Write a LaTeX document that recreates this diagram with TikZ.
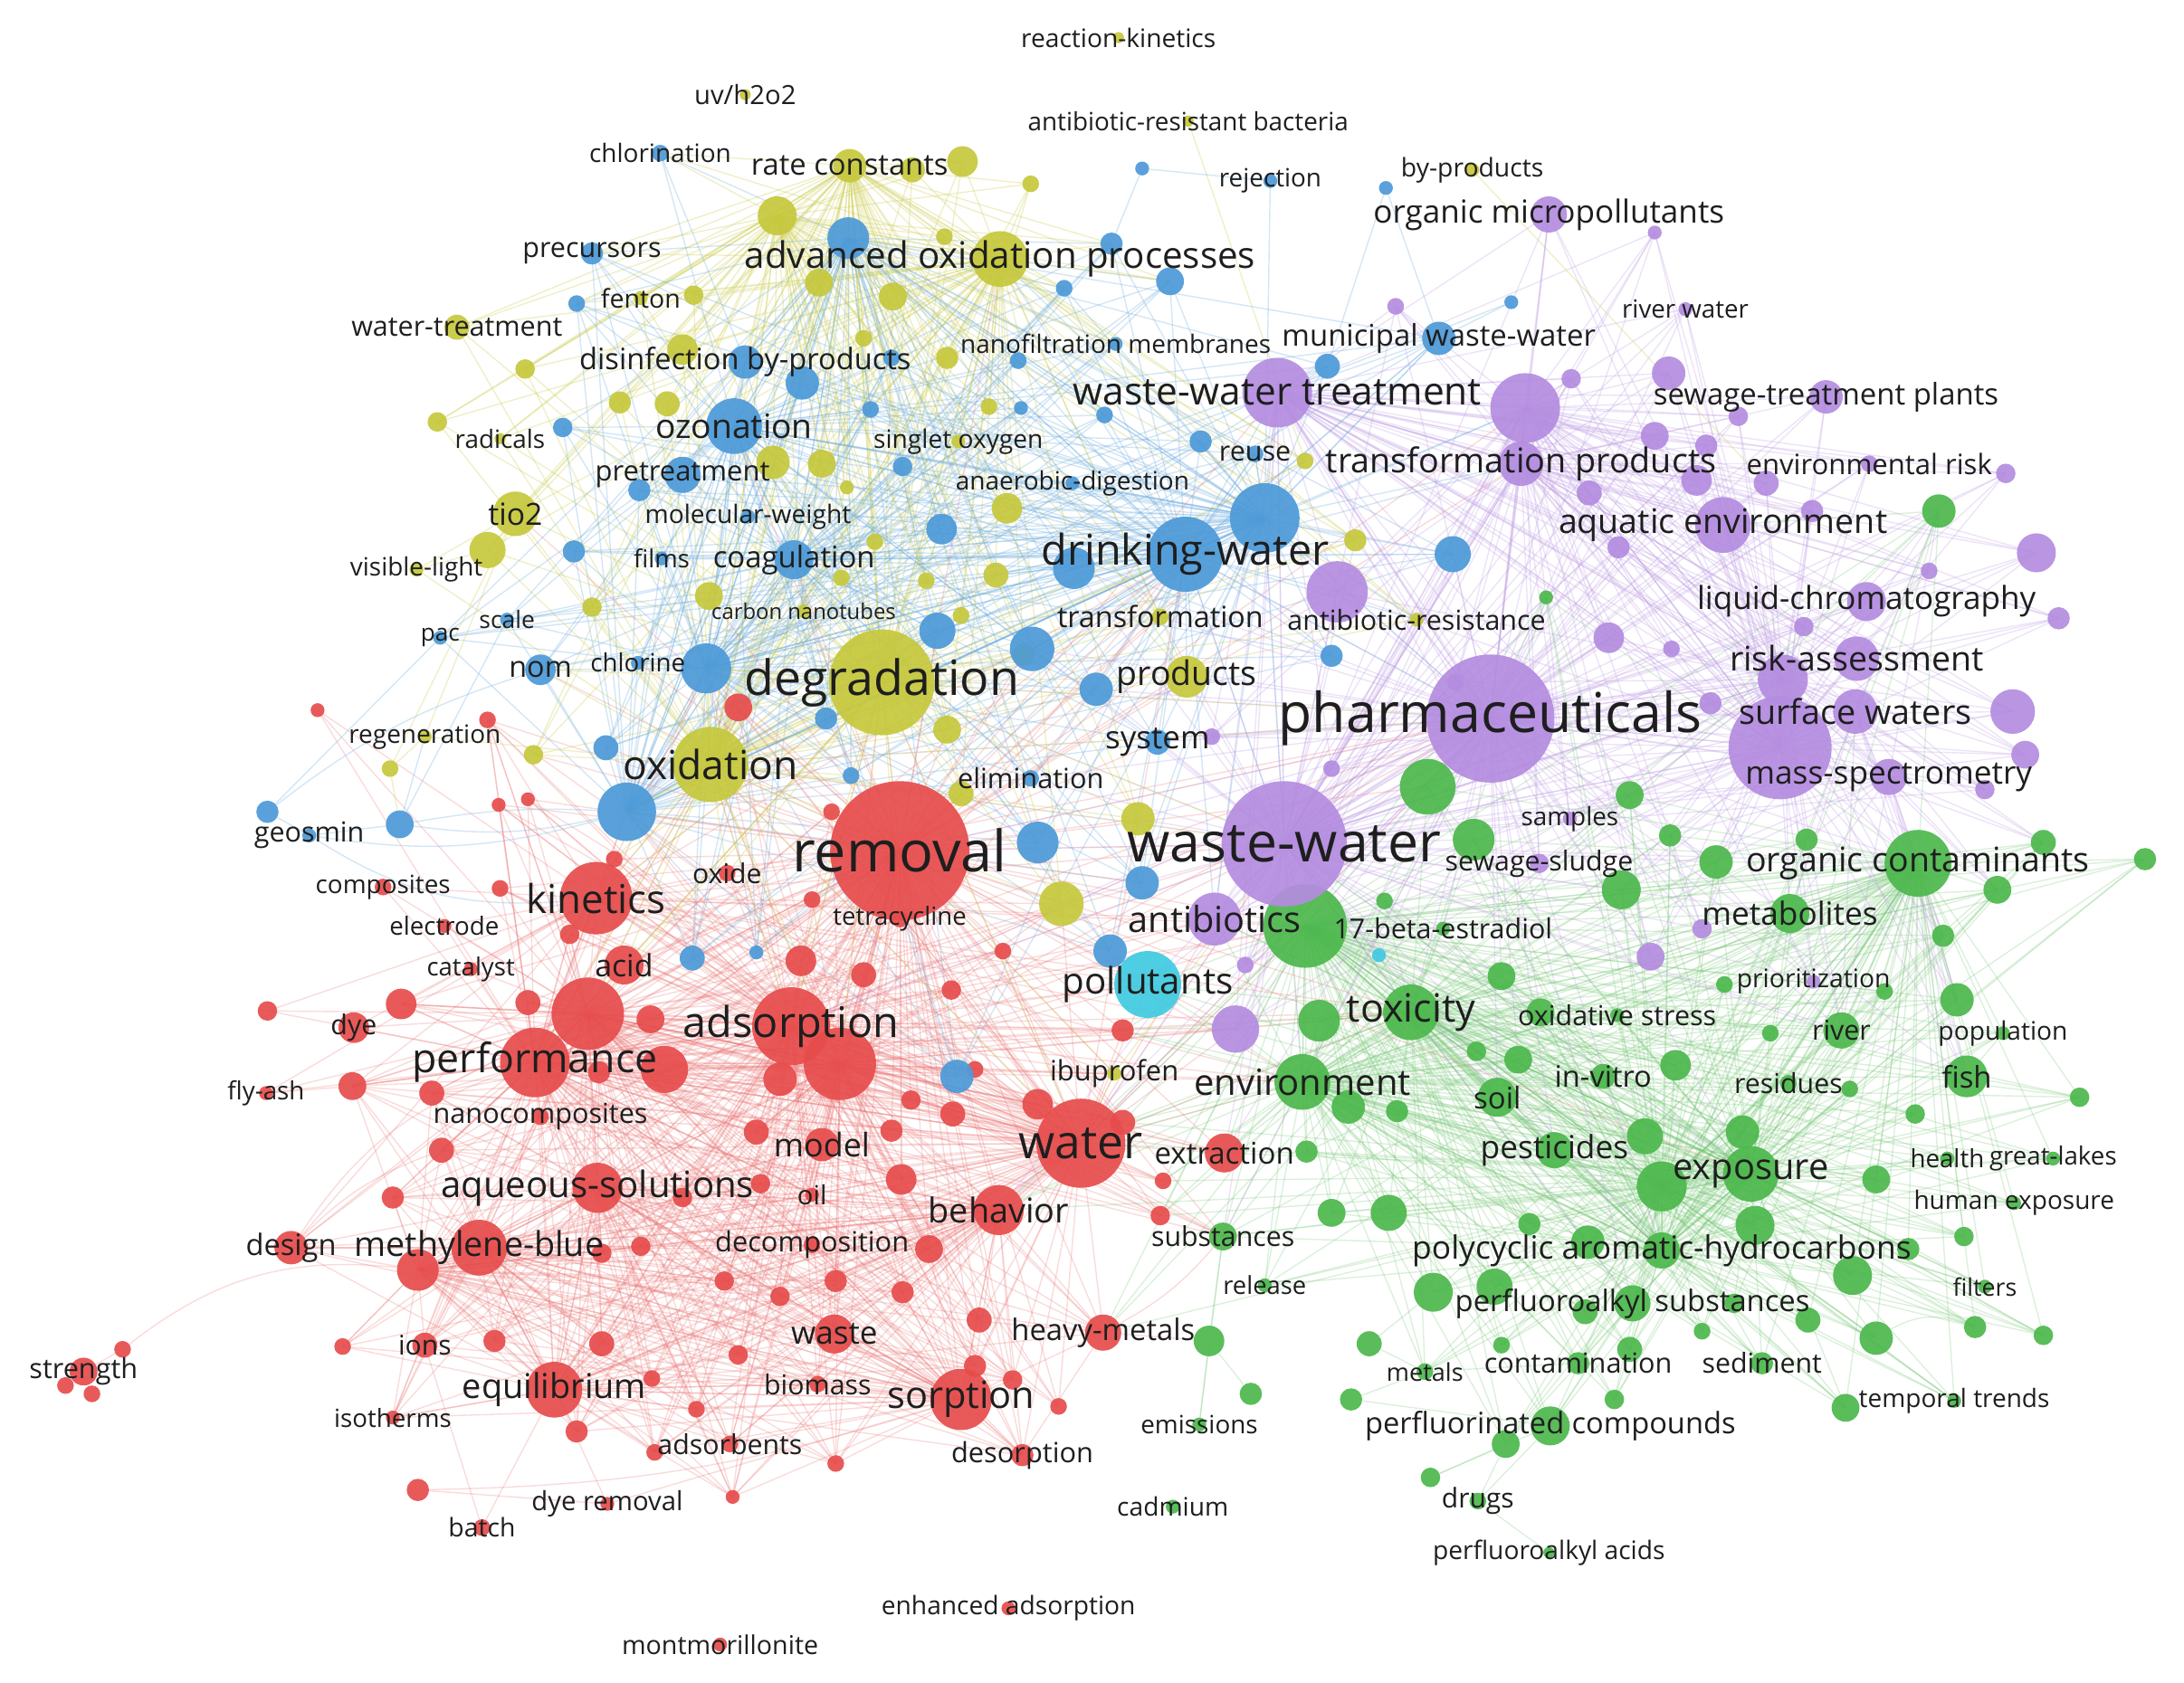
\documentclass[tikz,border=0pt]{standalone}
\usepackage{fontspec}
\setmainfont{Open Sans}
\pgfdeclarelayer{edges}
\pgfdeclarelayer{labels}
\pgfsetlayers{edges,main,labels}
\definecolor{cR}{RGB}{231,76,76}
\definecolor{cG}{RGB}{76,184,76}
\definecolor{cB}{RGB}{76,154,216}
\definecolor{cY}{RGB}{198,200,60}
\definecolor{cP}{RGB}{180,140,224}
\definecolor{cC}{RGB}{64,202,224}
\definecolor{txt}{RGB}{30,30,30}
\tikzset{
 kwdot/.style={circle,inner sep=0pt,draw=none,fill opacity=0.92},
 kwlbl/.style={inner sep=0pt,text=txt},
 eR/.style={draw=cR!80!white,draw opacity=0.25,line width=0.9pt},
 eG/.style={draw=cG!80!white,draw opacity=0.25,line width=0.9pt},
 eB/.style={draw=cB!80!white,draw opacity=0.3,line width=0.9pt},
 eY/.style={draw=cY!85!white,draw opacity=0.32,line width=0.9pt},
 eP/.style={draw=cP!85!white,draw opacity=0.28,line width=0.9pt},
}
\newcommand\kw[7]{%
 \node[kwdot,fill=#5,minimum size={2pt*#4}] (#1) at (#2,#3) {};%
 \begin{pgfonlayer}{labels}%
 \node[kwlbl,font=\fontsize{#6}{#6}\selectfont] (#1t) at (#2,#3) {#7};%
 \end{pgfonlayer}}
\def\redA{kinet,oxide,tetra,acid,adsorp,perf,nanoc,model,water,aqsol,oil,behav,mblue,decomp,ions,waste,heavy,biomass,sorp,equil,adsorb,desorp,extr,r2,r3,r4,r5,r6,r7,r9,r10,r11,r12,r14,r15,r16,r17,r18,r19,r20,r22,r23,r24,r25,r26,r27,r28,r29,r30,r31,r33,r34,r35,r36,r37,r38,r39,r40,r41,r42,r46,r47,r48,r49,r51,r52,r54,r55,r56,r57,r58,r59,r61,r62,r63,r64,r65,r66,r67,r68,r69,r70}
\def\redP{compos,electr,catal,dye,r1,r8,design,isoth,flyash,r7,r9,r67,r68}
\def\redB{aqsol,mblue,equil,sorp,ions,waste,biomass,isoth,adsorb,desorp,design,r9,r10,r11,r12,r13,r14,r15,r16,r17,r18,r19,r20,r22,r29,r30,r31,r47,r48,r51,r54,r55,r56,r61,r62,r63,heavy,behav,model,decomp,oil,nanoc,r69,r70}
\def\yelA{ratec,aop,fenton,wtreat,radic,singlet,tio,cnt,deg,prod,transf,abres,oxid,y1,y2,y3,y4,y5,y6,y7,y8,y9,y10,y11,y12,y13,y14,y15,y16,y17,y18,y19,y20,y21,y22,y23,y24,y25,y26,y27,y29,y30,y31,y32,y33,y34,y35,y36,y37}
\def\bluA{precurs,dbp,nanof,munic,ozon,pretr,reuse,anaer,molw,films,coag,dwater,scale,pac,nom,chlorine,system,elim,b1,b2,b3,b4,b8,b9,b10,b11,b12,b13,b14,b15,b16,b17,b18,b19,b20,b21,b22,b23,b24,b25,b26,b27,b28,b29,b30,b31,b32,b35,b36,b37,b38,b39,b40,b41}
\def\purA{omicro,riverw,wwt,stp,tprod,envrisk,aqenv,lcms,riskass,pharma,surfw,massspec,wastew,antib,samples,ssludge,priorit,p1,p2,p3,p4,p5,p6,p7,p8,p9,p10,p11,p12,p13,p14,p15,p16,p17,p18,p19,p20,p21,p22,p23,p24,p25,p31,p32,p33,p34,p35,p36,p37,p38,p39}
\def\grnA{beta,toxic,oxstress,popul,river,envir,invitro,resid,fish,soil,pest,expo,health,glakes,humexp,subst,pah,releas,filters,pfas,metals,contam,sedim,temptr,pfc,metab,orgcont,g1,g2,g3,g4,g5,g6,g7,g8,g9,g10,g11,g12,g13,g14,g15,g16,g17,g18,g19,g20,g21,g22,g23,g24,g25,g26,g27,g28,g29,g30,g31,g32,g33,g34,g35,g36,g39,g40,g41,g42,g47,g51,g52,g53,g54,g55,g56,g57,g58,g59,g60,g61,g62,g63,g64,g65,g67}
\def\crossRem{deg,oxid,aop,dwater,b19,b26,b23,ozon,coag,prod,system,elim,y24,y25,y34,y35,b27,b21,b22,b38,b39,b40,wastew,pharma,antib,pollut,tprod,wwt,toxic,envir,g5,g3,expo,subst,p21,b28,b29,b30,y30,nom,chlorine,tio,b31,b32,ibu,transf,p22,p1,b25,y29,y21}
\def\crossB{deg,oxid,b26,b23,y24,pollut,envir,wastew,pharma,b30,dwater,subst,g5,antib,p21,toxic,b31,ibu}
\def\crossPh{toxic,envir,g5,g3,g4,expo,orgcont,metab,beta,g7,g9,g10,soil,pest,pah,pfas,river,fish,g18,g19,g52,dwater,b19,b20,b36,deg,prod,system,y24,y25,y26,pollut,c1,removal,water,adsorp,oxid,b35,b22,b21,elim,transf,abres,subst,extr,behav}
\def\crossPg{orgcont,metab,g10,g11,g12,g8,g9,river,fish,g15,g13,g51,g1,g7}
\def\crossDw{pharma,wastew,wwt,tprod,p1,p22,antib,abres,deg,aop,prod,transf,y18,y23,y30,y26,y27,munic,reuse,anaer}
\def\crossDeg{removal,kinet,adsorp,perf,r4,acid,oxide,tetra,r40,r41,water,r5,r6,b23,b26,chlorine,nom,b21,b38,coag,b39,b40,dwater,pharma,wastew}
\def\crossAop{b1,b3,b4,b2,ozon,dbp,b10,b11,nanof,b12,b16,precurs,b8,chlorin}
\def\crossG{water,extr,behav,heavy,p21,antib,wastew,pollut,c1,r35,r39,r49,r64}
\begin{document}
\begin{tikzpicture}[x=1pt,y=-1pt]
\useasboundingbox (0,0) rectangle (1568,1208);
% ---------- unlabeled dots ----------
\foreach \nm/\px/\py/\rd in {r1/228/510/5,r2/379/574/5,r3/359/638/6,r4/530/508/10,r5/422/728/26,r6/603/764/26,r7/288/721/11,r8/192/726/7,r9/253/780/10,r10/317/826/9,r11/282/860/8,r12/300/912/15,r13/246/967/6,r14/355/963/8,r15/432/965/9,r16/414/1028/8,r17/470/1043/6,r18/530/973/7,r19/600/1051/6,r20/526/1075/5,r21/300/1070/8,r22/667/897/10,r23/647/847/11,r24/684/800/9,r25/543/813/9,r26/477/768/17,r27/467/732/10,r28/560/775/12,r29/546/850/7,r30/490/860/7,r31/520/920/7,r33/703/948/9,r34/760/1010/6,r35/806/740/8,r36/683/711/7,r37/720/683/6,r38/745/793/11,r39/806/806/9,r40/575/690/11,r41/441/617/6,r42/358/578/5,r43/47/995/6,r44/66/1001/6,r45/88/969/6,r46/379/720/9,r47/468/990/6,r48/500/1012/6,r49/835/848/6,r51/600/920/8,r52/654/790/7,r54/460/895/7,r55/432/900/7,r56/727/991/7,r57/700/768/6,r58/620/700/9,r59/597/583/6,r61/560/931/7,r62/648/928/8,r63/700/981/8,r64/833/873/7,r65/640/812/8,r66/583/646/6,r67/350/517/6,r68/409/671/7,r69/430/770/8,r70/310/785/9}
 {\node[kwdot,fill=cR,minimum size={2pt*\rd}] (\nm) at (\px,\py) {};}
\foreach \nm/\px/\py/\rd in {y1/558/155/14,y2/655/122/9,y3/691/116/11,y4/740/132/6,y5/678/170/6,y6/641/213/10,y7/588/203/10,y8/498/212/7,y9/490/251/11,y10/377/265/7,y11/445/289/8,y12/314/303/7,y13/555/332/12,y14/590/333/10,y15/620/243/6,y16/680/257/8,y17/710/292/6,y18/723/365/11,y19/350/395/13,y20/425/436/7,y21/509/428/10,y22/604/415/6,y23/715/413/9,y24/762/649/16,y25/817/588/12,y26/973/388/8,y27/937/331/6,y28/280/552/6,y29/383/542/7,y30/735/470/8,y31/690/442/6,y32/608/350/5,y33/628/389/6,y34/680/524/10,y35/690/570/9,y36/665/417/6,y37/479/290/9}
 {\node[kwdot,fill=cY,minimum size={2pt*\rd}] (\nm) at (\px,\py) {};}
\foreach \nm/\px/\py/\rd in {b1/609/171/15,b2/764/207/6,b3/798/175/8,b4/840/202/10,b5/820/121/5,b6/995/135/5,b7/1085/217/5,b8/414/218/6,b9/404/307/7,b10/576/275/12,b11/640/257/6,b12/625/294/6,b13/648/335/7,b14/676/380/11,b15/733/293/5,b16/793/298/6,b17/862/317/8,b18/953/263/9,b19/908/372/25,b20/1043/398/13,b21/741/466/16,b22/787/495/12,b23/507/480/18,b24/412/396/8,b25/435/537/9,b26/450/583/21,b27/745/605/15,b28/820/634/12,b29/797/683/12,b30/687/773/12,b31/497/688/9,b32/543/684/5,b33/192/583/8,b34/287/592/10,b35/956/471/8,b36/771/408/15,b37/731/259/6,b38/673/453/13,b39/593/516/8,b40/611/557/6,b41/459/352/8}
 {\node[kwdot,fill=cB,minimum size={2pt*\rd}] (\nm) at (\px,\py) {};}
\foreach \nm/\px/\py/\rd in {p1/1095/293/25,p2/1198/268/12,p3/1188/313/10,p4/1002/220/6,p5/1188/167/5,p6/1128/272/7,p7/1141/354/9,p8/1218/345/11,p9/1225/320/8,p10/1268/347/9,p11/1440/340/7,p12/1462/397/14,p13/1385/410/6,p14/1478/444/8,p15/1445/511/16,p16/1454/542/10,p17/1278/537/37,p18/1155/458/11,p19/1228/505/8,p20/1185/687/10,p21/887/739/17,p22/960/425/22,p23/956/552/6,p24/1045/490/6,p25/1200/466/6,p31/1248/299/7,p32/1301/367/8,p33/1162/393/8,p34/1295/450/7,p35/1280/488/18,p36/1425/567/7,p37/1222/667/7,p38/894/693/6,p39/870/529/6}
 {\node[kwdot,fill=cP,minimum size={2pt*\rd}] (\nm) at (\px,\py) {};}
\foreach \nm/\px/\py/\rd in {g1/1392/367/12,g2/1110/429/5,g3/1025/565/20,g4/1058/603/15,g5/937/665/30,g6/947/733/15,g7/1164/639/14,g8/1199/600/8,g9/1170/571/10,g10/1232/619/12,g11/1297/603/8,g12/1434/639/10,g13/1467/605/9,g14/1540/617/8,g15/1405/718/12,g16/1353/712/6,g17/1238/707/6,g18/1078/701/10,g19/1090/761/10,g20/1203/765/11,g21/968/795/12,g22/1003/798/8,g23/1181/816/13,g24/1193/852/18,g25/1251/813/12,g26/1260/880/14,g27/1330/916/14,g28/1347/847/10,g29/1375/800/7,g30/1410/888/7,g31/1418/953/8,g32/1467/959/7,g33/1347/961/12,g34/1029/928/14,g35/1073/924/13,g36/1140/892/12,g39/1081/1037/10,g40/997/871/13,g41/956/871/10,g42/938/827/8,g43/868/963/11,g44/898/1001/8,g45/970/1005/8,g46/983/965/9,g47/1493/788/7,g51/1395/672/8,g52/1106/727/10,g53/1060/755/7,g54/1271/742/6,g55/1328/782/6,g56/1098/879/8,g57/1370/897/8,g58/1138/942/9,g59/1245/936/7,g60/1298/948/9,g61/1222/956/6,g62/1078/966/6,g63/1170/969/9,g64/1159/1005/7,g65/1325/1011/10,g66/1027/1061/7,g67/994/647/6}
 {\node[kwdot,fill=cG,minimum size={2pt*\rd}] (\nm) at (\px,\py) {};}
\node[kwdot,fill=cC,minimum size=10pt] (c1) at (990,686) {};
% ---------- labeled keywords ----------
% yellow
\kw{rk}{803}{27}{4}{cY}{18.3}{reaction-kinetics}
\kw{uvh}{535}{68}{4}{cY}{19}{uv/h2o2}
\kw{arb}{853}{87}{4}{cY}{18.1}{antibiotic-resistant bacteria}
\kw{ratec}{610}{119}{12}{cY}{21.3}{rate constants}
\kw{aop}{718}{186}{20}{cY}{26.2}{advanced oxidation processes}
\kw{fenton}{460}{214}{5}{cY}{18.5}{fenton}
\kw{wtreat}{328}{235}{9}{cY}{19.8}{water-treatment}
\kw{radic}{359}{315}{4}{cY}{18.1}{radicals}
\kw{singlet}{688}{317}{5}{cY}{18.3}{singlet oxygen}
\kw{tio}{370}{369}{16}{cY}{21.9}{tio2}
\kw{visl}{299}{409}{5}{cY}{18.1}{visible-light}
\kw{cnt}{577}{439}{5}{cY}{15.5}{carbon nanotubes}
\kw{deg}{633}{490}{38}{cY}{34.9}{degradation}
\kw{regen}{305}{529}{5}{cY}{18.2}{regeneration}
\kw{prod}{852}{486}{15}{cY}{24.3}{products}
\kw{byp}{1057}{122}{5}{cY}{18.4}{by-products}
\kw{transf}{833}{443}{6}{cY}{21}{transformation}
\kw{abres}{1017}{445}{5}{cY}{19.8}{antibiotic-resistance}
\kw{ibu}{800}{771}{5}{cY}{20.1}{ibuprofen}
\kw{oxid}{510}{549}{27}{cY}{28.8}{oxidation}
% blue
\kw{chlorin}{474}{110}{6}{cB}{18.2}{chlorination}
\kw{reject}{912}{130}{5}{cB}{18.1}{rejection}
\kw{precurs}{425}{182}{8}{cB}{19.8}{precursors}
\kw{dbp}{535}{260}{12}{cB}{21.2}{disinfection by-products}
\kw{nanof}{801}{247}{5}{cB}{18.2}{nanofiltration membranes}
\kw{munic}{1033}{243}{12}{cB}{21.4}{municipal waste-water}
\kw{ozon}{527}{306}{20}{cB}{24.2}{ozonation}
\kw{pretr}{490}{341}{13}{cB}{20.1}{pretreatment}
\kw{reuse}{901}{326}{6}{cB}{19.8}{reuse}
\kw{anaer}{770}{347}{5}{cB}{18.2}{anaerobic-digestion}
\kw{molw}{537}{371}{5}{cB}{18.3}{molecular-weight}
\kw{films}{475}{401}{5}{cB}{17.8}{films}
\kw{coag}{570}{402}{14}{cB}{21.4}{coagulation}
\kw{dwater}{851}{398}{27}{cB}{30.4}{drinking-water}
\kw{scale}{364}{445}{5}{cB}{17.2}{scale}
\kw{pac}{316}{458}{5}{cB}{17}{pac}
\kw{nom}{388}{481}{11}{cB}{21}{nom}
\kw{chlorine}{458}{476}{5}{cB}{18}{chlorine}
\kw{system}{831}{533}{9}{cB}{22.7}{system}
\kw{elim}{740}{559}{6}{cB}{20}{elimination}
\kw{geos}{222}{600}{5}{cB}{19.8}{geosmin}
% purple
\kw{omicro}{1112}{154}{13}{cP}{22.8}{organic micropollutants}
\kw{riverw}{1210}{222}{5}{cP}{18}{river water}
\kw{wwt}{917}{282}{25}{cP}{27.6}{waste-water treatment}
\kw{stp}{1311}{285}{12}{cP}{21.4}{sewage-treatment plants}
\kw{tprod}{1092}{333}{16}{cP}{24.5}{transformation products}
\kw{envrisk}{1342}{333}{6}{cP}{20.2}{environmental risk}
\kw{aqenv}{1237}{377}{20}{cP}{24.4}{aquatic environment}
\kw{lcms}{1340}{432}{14}{cP}{22.8}{liquid-chromatography}
\kw{riskass}{1333}{473}{16}{cP}{24.4}{risk-assessment}
\kw{pharma}{1070}{516}{46}{cP}{39.5}{pharmaceuticals}
\kw{surfw}{1332}{511}{16}{cP}{24.5}{surface waters}
\kw{massspec}{1356}{558}{13}{cP}{22.9}{mass-spectrometry}
\kw{wastew}{922}{606}{45}{cP}{39.5}{waste-water}
\kw{antib}{872}{660}{19}{cP}{25.8}{antibiotics}
\kw{samples}{1127}{588}{5}{cP}{18.1}{samples}
\kw{ssludge}{1105}{620}{7}{cP}{19.7}{sewage-sludge}
\kw{priorit}{1302}{705}{5}{cP}{18.4}{prioritization}
% cyan
\kw{pollut}{824}{707}{24}{cC}{26.2}{pollutants}
% green
\kw{beta}{1036}{667}{5}{cG}{19.8}{17-beta-estradiol}
\kw{toxic}{1013}{727}{20}{cG}{28}{toxicity}
\kw{oxstress}{1161}{729}{5}{cG}{19.8}{oxidative stress}
\kw{popul}{1438}{742}{5}{cG}{18.3}{population}
\kw{river}{1322}{740}{13}{cG}{19.7}{river}
\kw{envir}{935}{777}{20}{cG}{26}{environment}
\kw{invitro}{1151}{773}{9}{cG}{21.2}{in-vitro}
\kw{resid}{1284}{778}{6}{cG}{19.7}{residues}
\kw{fish}{1412}{773}{15}{cG}{21.4}{fish}
\kw{soil}{1075}{788}{14}{cG}{21.4}{soil}
\kw{pest}{1116}{826}{13}{cG}{22.9}{pesticides}
\kw{expo}{1257}{843}{20}{cG}{25.9}{exposure}
\kw{health}{1398}{832}{5}{cG}{18}{health}
\kw{glakes}{1474}{832}{5}{cG}{18}{great-lakes}
\kw{humexp}{1446}{864}{5}{cG}{18.2}{human exposure}
\kw{subst}{878}{888}{10}{cG}{19.7}{substances}
\kw{pah}{1193}{898}{13}{cG}{23}{polycyclic aromatic-hydrocarbons}
\kw{releas}{908}{923}{5}{cG}{17.8}{release}
\kw{filters}{1425}{924}{5}{cG}{17.4}{filters}
\kw{pfas}{1172}{936}{13}{cG}{21.3}{perfluoroalkyl substances}
\kw{metals}{1023}{985}{6}{cG}{17.6}{metals}
\kw{contam}{1133}{979}{8}{cG}{19.9}{contamination}
\kw{sedim}{1265}{979}{8}{cG}{19.7}{sediment}
\kw{temptr}{1403}{1006}{5}{cG}{18.2}{temporal trends}
\kw{emiss}{861}{1023}{5}{cG}{18.1}{emissions}
\kw{pfc}{1113}{1024}{14}{cG}{21.2}{perfluorinated compounds}
\kw{cadm}{842}{1082}{5}{cG}{18.3}{cadmium}
\kw{drugs}{1061}{1078}{6}{cG}{19.5}{drugs}
\kw{pfaa}{1112}{1115}{4}{cG}{18.3}{perfluoroalkyl acids}
\kw{metab}{1285}{656}{14}{cG}{22.9}{metabolites}
\kw{orgcont}{1377}{620}{24}{cG}{24.4}{organic contaminants}
% red
\kw{removal}{646}{611}{50}{cR}{40.9}{removal}
\kw{compos}{275}{637}{6}{cR}{18.1}{composites}
\kw{electr}{319}{665}{5}{cR}{18}{electrode}
\kw{kinet}{428}{645}{26}{cR}{28.5}{kinetics}
\kw{oxide}{522}{627}{6}{cR}{19.6}{oxide}
\kw{tetra}{646}{660}{6}{cR}{17.9}{tetracycline}
\kw{catal}{338}{696}{5}{cR}{17.9}{catalyst}
\kw{acid}{448}{693}{14}{cR}{22}{acid}
\kw{dye}{254}{738}{11}{cR}{19.7}{dye}
\kw{adsorp}{568}{737}{28}{cR}{30.4}{adsorption}
\kw{perf}{384}{763}{25}{cR}{29}{performance}
\kw{flyash}{191}{785}{5}{cR}{18}{fly-ash}
\kw{nanoc}{388}{802}{6}{cR}{19.9}{nanocomposites}
\kw{model}{590}{822}{12}{cR}{23.3}{model}
\kw{water}{776}{821}{32}{cR}{33.5}{water}
\kw{aqsol}{429}{853}{18}{cR}{26.1}{aqueous-solutions}
\kw{oil}{583}{858}{5}{cR}{19}{oil}
\kw{behav}{717}{869}{18}{cR}{24.6}{behavior}
\kw{design}{209}{896}{12}{cR}{21.2}{design}
\kw{mblue}{344}{896}{20}{cR}{24.5}{methylene-blue}
\kw{decomp}{583}{894}{6}{cR}{20}{decomposition}
\kw{streng}{60}{985}{10}{cR}{19.9}{strength}
\kw{ions}{305}{966}{9}{cR}{19.5}{ions}
\kw{waste}{599}{958}{14}{cR}{22.8}{waste}
\kw{heavy}{792}{957}{13}{cR}{21.3}{heavy-metals}
\kw{biomass}{587}{994}{6}{cR}{19.7}{biomass}
\kw{sorp}{690}{1005}{22}{cR}{27}{sorption}
\kw{equil}{398}{998}{20}{cR}{24.6}{equilibrium}
\kw{isoth}{282}{1018}{5}{cR}{18}{isotherms}
\kw{adsorb}{524}{1037}{6}{cR}{19.7}{adsorbents}
\kw{desorp}{734}{1045}{8}{cR}{20}{desorption}
\kw{dyerem}{436}{1080}{5}{cR}{19}{dye removal}
\kw{batch}{346}{1097}{6}{cR}{18.4}{batch}
\kw{enhads}{724}{1155}{5}{cR}{18.3}{enhanced adsorption}
\kw{montm}{517}{1181}{5}{cR}{18.6}{montmorillonite}
\kw{extr}{879}{828}{14}{cR}{21.5}{extraction}
% ---------- connectors ----------
\begin{pgfonlayer}{edges}
\fill[white] (0,0) rectangle (1568,1208);
\foreach \ha in {removal,adsorp,r6,perf,r5,water}{\foreach \hb in \redA {\draw[eR] (\ha.center) -- (\hb.center);}}
\foreach \ha in {aqsol,mblue,equil,sorp,r12,behav}{\foreach \hb in \redB {\draw[eR] (\ha.center) -- (\hb.center);}}
\foreach \ha in {perf,kinet,r5}{\foreach \hb in \redP {\draw[eR] (\ha.center) -- (\hb.center);}}
\foreach \ha in {deg,aop,oxid,y1,ratec}{\foreach \hb in \yelA {\draw[eY] (\ha.center) -- (\hb.center);}}
\foreach \ha in {dwater,b19,ozon,b1,coag,b26,b23}{\foreach \hb in \bluA {\draw[eB] (\ha.center) -- (\hb.center);}}
\foreach \ha in {pharma,wastew,p17,p1,wwt,tprod,p35}{\foreach \hb in \purA {\draw[eP] (\ha.center) -- (\hb.center);}}
\foreach \ha in {expo,envir,g5,toxic,pah,orgcont,g24}{\foreach \hb in \grnA {\draw[eG] (\ha.center) -- (\hb.center);}}
\foreach \hb in \crossRem {\draw[eR] (removal.center) -- (\hb.center);}
\foreach \ha in {adsorp,water,r6,perf,kinet}{\foreach \hb in \crossB {\draw[eR] (\ha.center) -- (\hb.center);}}
\foreach \ha in {pharma,wastew}{\foreach \hb in \crossPh {\draw[eP] (\ha.center) -- (\hb.center);}}
\foreach \ha in {p17,massspec,surfw,p35}{\foreach \hb in \crossPg {\draw[eP] (\ha.center) -- (\hb.center);}}
\foreach \ha in {dwater,b19}{\foreach \hb in \crossDw {\draw[eB] (\ha.center) -- (\hb.center);}}
\foreach \ha in {deg,oxid}{\foreach \hb in \crossDeg {\draw[eY] (\ha.center) -- (\hb.center);}}
\foreach \ha in {aop,y1,ratec}{\foreach \hb in \crossAop {\draw[eY] (\ha.center) -- (\hb.center);}}
\foreach \ha in {envir,expo,toxic,g5}{\foreach \hb in \crossG {\draw[eG] (\ha.center) -- (\hb.center);}}
% peripheral connectors
\draw[eR] (r45) to[bend left=22] (r12);
\draw[eR] (streng) -- (r43); \draw[eR] (streng) -- (r44); \draw[eR] (streng) -- (r45);
\draw[eR] (design) to[bend left=18] (perf);
\draw[eR] (design) to[bend left=12] (r10);
\draw[eR] (design) -- (mblue);
\draw[eR] (r21) to[bend right=8] (sorp);
\draw[eR] (r21) -- (dyerem);
\draw[eR] (dyerem) -- (equil); \draw[eR] (dyerem) -- (sorp);
\draw[eR] (batch) -- (equil); \draw[eR] (batch) -- (ions);
\draw[eR] (flyash) -- (r9);
\draw[eR] (desorp) -- (sorp); \draw[eR] (desorp) -- (heavy);
\draw[eR] (heavy) to[bend right=10] (subst);
\draw[eR] (heavy) -- (g43);
\draw[eR] (r13) -- (r12);
\draw[eR] (isoth) -- (equil);
\draw[eY] (regen) -- (tio); \draw[eY] (regen) -- (y28); \draw[eY] (regen) -- (oxid);
\draw[eY] (y28) -- (tio); \draw[eY] (y28) -- (b34);
\draw[eY] (visl) -- (tio); \draw[eY] (visl) -- (y19); \draw[eY] (visl) -- (oxid);
\draw[eY] (byp) -- (p10); \draw[eY] (arb) -- (y27);
\draw[eY] (ibu) -- (removal); \draw[eY] (ibu) -- (water); \draw[eY] (ibu) -- (wastew);
\draw[eB] (chlorin) -- (ozon); \draw[eB] (chlorin) -- (b1); \draw[eB] (chlorin) -- (dbp);
\draw[eB] (reject) -- (b5); \draw[eB] (reject) -- (b19);
\draw[eB] (b6) -- (munic); \draw[eB] (b6) -- (b18);
\draw[eB] (b7) -- (munic); \draw[eB] (b7) -- (wwt);
\draw[eB] (b5) -- (b3);
\draw[eB] (geos) -- (b33); \draw[eB] (geos) -- (b34);
\draw[eB] (geos) to[bend right=12] (b26);
\draw[eB] (geos) to[bend right=18] (kinet);
\draw[eB] (b34) to[bend left=6] (b26);
\draw[eB] (b34) to[bend right=10] (b26);
\draw[eB] (b33) -- (pac); \draw[eB] (b34) -- (regen); \draw[eB] (b34) -- (scale);
\draw[eB] (b33) to[bend left=10] (nom);
\draw[eG] (emiss) -- (subst); \draw[eG] (emiss) -- (g43);
\draw[eG] (drugs) -- (pfc); \draw[eG] (drugs) -- (g39); \draw[eG] (pfaa) -- (drugs);
\draw[eG] (g43) -- (subst); \draw[eG] (g44) -- (g43);
\draw[eG] (g45) -- (pfc); \draw[eG] (g45) -- (metals);
\draw[eG] (g46) -- (metals); \draw[eG] (g46) -- (g34);
\draw[eG] (g66) -- (pfc); \draw[eG] (g66) -- (g39);
\draw[eG] (metals) -- (contam);
\draw[eG] (g33) to[bend left=25] (g31);
\draw[eG] (fish) -- (popul); \draw[eG] (fish) -- (g47);
\draw[eG] (g1) -- (aqenv);
\end{pgfonlayer}
\end{tikzpicture}
\end{document}
